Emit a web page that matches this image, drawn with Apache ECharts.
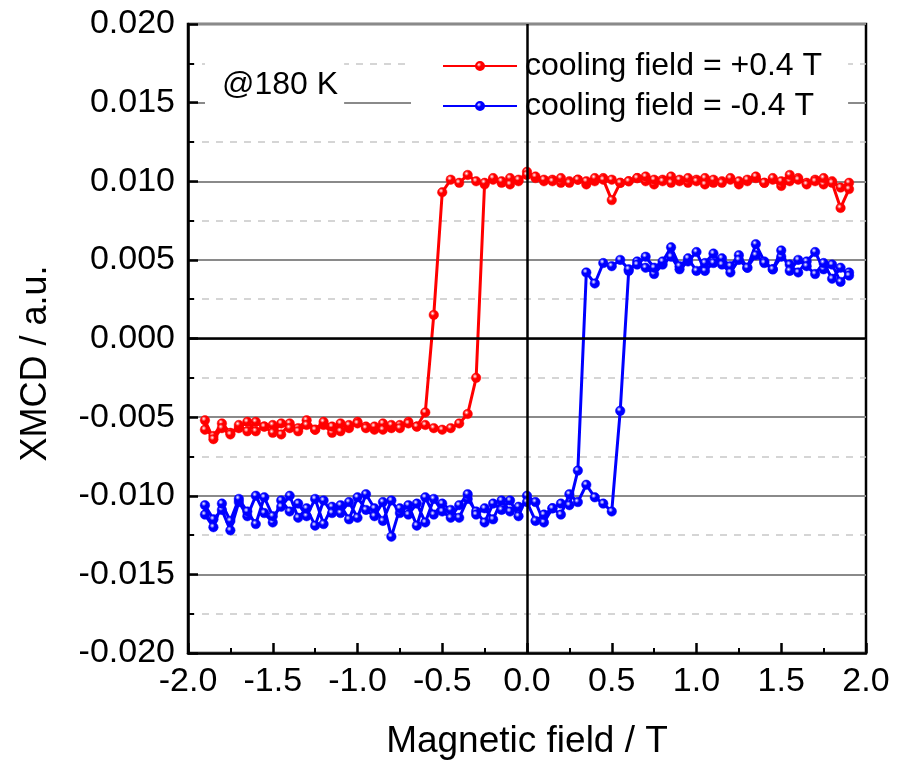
<!DOCTYPE html>
<html>
<head>
<meta charset="utf-8">
<script src="https://cdn.jsdelivr.net/npm/echarts@6/dist/echarts.min.js"></script>
<style>
html,body{margin:0;padding:0;background:#fff;}
#chart{width:910px;height:765px;}
</style>
</head>
<body>
<div id="chart"></div>
<script>
// Magnetic field sweep points (T), ascending order
const fields = [-1.90,-1.85,-1.80,-1.75,-1.70,-1.65,-1.60,-1.55,-1.50,-1.45,
  -1.40,-1.35,-1.30,-1.25,-1.20,-1.15,-1.10,-1.05,-1.00,-0.95,
  -0.90,-0.85,-0.80,-0.75,-0.70,-0.65,-0.60,-0.55,-0.50,-0.45,
  -0.40,-0.35,-0.30,-0.25,-0.20,-0.15,-0.10,-0.05,0.00,0.05,
  0.10,0.15,0.20,0.25,0.30,0.35,0.40,0.45,0.50,0.55,
  0.60,0.65,0.70,0.75,0.80,0.85,0.90,0.95,1.00,1.05,
  1.10,1.15,1.20,1.25,1.30,1.35,1.40,1.45,1.50,1.55,
  1.60,1.65,1.70,1.75,1.80,1.85,1.90];

// Cooling field +0.4 T : decreasing-field branch (listed in ascending field order)
const redDown = [-0.0058,-0.0062,-0.0054,-0.0060,-0.0057,-0.0053,-0.0059,-0.0056,-0.0055,-0.0061,
  -0.0054,-0.0057,-0.0052,-0.0058,-0.0055,-0.0060,-0.0054,-0.0057,-0.0053,-0.0056,
  -0.0058,-0.0054,-0.0057,-0.0055,-0.0053,-0.0056,-0.0047,0.0015,0.0093,0.0101,
  0.0099,0.0104,0.0100,0.0098,0.0101,0.0099,0.0102,0.0100,0.0106,0.0102,
  0.0100,0.0101,0.0099,0.0100,0.0101,0.0098,0.0100,0.0102,0.0101,0.0099,
  0.0100,0.0102,0.0100,0.0098,0.0101,0.0103,0.0100,0.0099,0.0101,0.0102,
  0.0099,0.0100,0.0101,0.0098,0.0100,0.0102,0.0099,0.0101,0.0097,0.0100,
  0.0102,0.0099,0.0101,0.0098,0.0100,0.0096,0.0099];
// Cooling field +0.4 T : increasing-field branch
const redUp = [-0.0052,-0.0064,-0.0057,-0.0061,-0.0055,-0.0059,-0.0053,-0.0056,-0.0060,-0.0054,
  -0.0057,-0.0059,-0.0055,-0.0058,-0.0053,-0.0056,-0.0059,-0.0055,-0.0054,-0.0057,
  -0.0056,-0.0058,-0.0055,-0.0057,-0.0054,-0.0056,-0.0055,-0.0057,-0.0058,-0.0057,
  -0.0054,-0.0048,-0.0025,0.0099,0.0102,0.0100,0.0098,0.0101,0.0104,0.0103,
  0.0101,0.0100,0.0102,0.0099,0.0101,0.0100,0.0102,0.0101,0.0088,0.0099,
  0.0100,0.0102,0.0103,0.0101,0.0100,0.0099,0.0101,0.0102,0.0100,0.0098,
  0.0101,0.0099,0.0102,0.0100,0.0101,0.0103,0.0099,0.0102,0.0100,0.0104,
  0.0101,0.0098,0.0100,0.0102,0.0099,0.0083,0.0095];

// Cooling field -0.4 T : decreasing-field branch (listed in ascending field order)
const blueDown = [-0.0106,-0.0115,-0.0109,-0.0122,-0.0104,-0.0113,-0.0100,-0.0111,-0.0117,-0.0103,
  -0.0110,-0.0105,-0.0113,-0.0102,-0.0118,-0.0107,-0.0111,-0.0104,-0.0114,-0.0099,
  -0.0108,-0.0116,-0.0103,-0.0111,-0.0106,-0.0119,-0.0101,-0.0112,-0.0105,-0.0109,
  -0.0114,-0.0102,-0.0110,-0.0117,-0.0105,-0.0109,-0.0103,-0.0113,-0.0100,-0.0104,
  -0.0117,-0.0108,-0.0112,-0.0099,-0.0104,-0.0093,-0.0101,-0.0105,-0.0110,-0.0046,
  0.0043,0.0049,0.0045,0.0041,0.0047,0.0052,0.0044,0.0049,0.0055,0.0043,
  0.0048,0.0051,0.0046,0.0053,0.0045,0.0060,0.0049,0.0044,0.0052,0.0047,
  0.0042,0.0049,0.0055,0.0044,0.0047,0.0036,0.0042];
// Cooling field -0.4 T : increasing-field branch
const blueUp = [-0.0112,-0.0120,-0.0105,-0.0116,-0.0102,-0.0110,-0.0118,-0.0101,-0.0113,-0.0107,
  -0.0100,-0.0114,-0.0108,-0.0119,-0.0103,-0.0111,-0.0106,-0.0115,-0.0101,-0.0109,
  -0.0113,-0.0104,-0.0126,-0.0108,-0.0112,-0.0105,-0.0117,-0.0102,-0.0110,-0.0114,
  -0.0106,-0.0099,-0.0112,-0.0108,-0.0115,-0.0103,-0.0110,-0.0107,-0.0104,-0.0116,
  -0.0112,-0.0108,-0.0105,-0.0106,-0.0084,0.0042,0.0035,0.0048,0.0046,0.0050,
  0.0044,0.0047,0.0052,0.0045,0.0049,0.0058,0.0046,0.0051,0.0043,0.0048,
  0.0054,0.0047,0.0042,0.0050,0.0045,0.0053,0.0048,0.0044,0.0056,0.0043,
  0.0050,0.0046,0.0041,0.0048,0.0038,0.0045,0.0040];

const seriesNames = ['cooling field = +0.4 T', 'cooling field = -0.4 T'];
const xTicks = ['-2.0','-1.5','-1.0','-0.5','0.0','0.5','1.0','1.5','2.0'];
const annotation = '@180 K';

function loop(down, up) {
  const pts = [];
  for (let i = fields.length - 1; i >= 0; i--) pts.push([fields[i], down[i]]);
  for (let i = 0; i < fields.length; i++) pts.push([fields[i], up[i]]);
  return pts;
}
function ball(c) {
  return {type:'radial', x:0.38, y:0.35, r:0.7,
    colorStops:[{offset:0,color:'#ffffff'},{offset:0.35,color:c},{offset:1,color:c}]};
}

const FONT = '"Liberation Sans", Arial, sans-serif';
const chart = echarts.init(document.getElementById('chart'), null, {renderer:'canvas'});
const option = {
  animation: false,
  backgroundColor: '#fff',
  grid: {left:188, right:44, top:24, bottom:110, show:true, borderColor:'#000', borderWidth:2.5, backgroundColor:'transparent'},
  title: {
    text: annotation, left: 205, top: 42,
    backgroundColor: '#fff', padding: [27, 6, 27, 17],
    textStyle: {fontFamily: FONT, fontSize: 32, fontWeight: 'normal', color: '#000'}
  },
  legend: {
    orient: 'vertical', left: 411, top: 40,
    backgroundColor: '#fff', padding: [10, 26, 8, 31], itemGap: 8,
    itemWidth: 74, itemHeight: 10,
    textStyle: {fontFamily: FONT, fontSize: 32, color: '#000', padding: [0,0,0,3]},
    data: seriesNames
  },
  xAxis: {
    type: 'value', min: -2, max: 2, interval: 0.5,
    name: 'Magnetic field / T', nameLocation: 'middle', nameGap: 70,
    nameTextStyle: {fontFamily: FONT, fontSize: 37, color: '#000'},
    axisLine: {onZero:false, lineStyle:{color:'#000', width:2.5}},
    axisTick: {inside:true, length:10, lineStyle:{color:'#000', width:2.5}},
    minorTick: {show:true, splitNumber:2, length:5, lineStyle:{color:'#000', width:2}},
    axisLabel: {margin:12, fontFamily: FONT, fontSize: 34, color:'#000',
      formatter: function(v){ const s = v.toFixed(1); return xTicks.indexOf(s) >= 0 ? s : ''; }},
    splitLine: {show:false}
  },
  yAxis: {
    type: 'value', min: -0.02, max: 0.02, interval: 0.005,
    name: 'XMCD / a.u.', nameLocation: 'middle', nameGap: 134,
    nameTextStyle: {fontFamily: FONT, fontSize: 36, color: '#000', padding:[0,50,0,0]},
    axisLine: {onZero:false, lineStyle:{color:'#000', width:2.5}},
    axisTick: {inside:true, length:10, lineStyle:{color:'#000', width:2.5}},
    minorTick: {show:true, splitNumber:2, length:6, lineStyle:{color:'#000', width:2}},
    axisLabel: {margin:13, fontFamily: FONT, fontSize: 34, color:'#000',
      formatter: function(v){ return v.toFixed(3); }},
    splitLine: {show:true, lineStyle:{color:'#8a8a8a', width:2}},
    minorSplitLine: {show:true, lineStyle:{color:'#c8c8c8', width:1.5, type:[7,7]}}
  },
  series: [
    {
      name: seriesNames[0], type: 'line', data: loop(redDown, redUp),
      showAllSymbol: true, symbol: 'circle', symbolSize: 9.5,
      lineStyle: {color:'#ff0000', width:3},
      itemStyle: {color: ball('#ff0000'), borderColor:'#ff0000', borderWidth:0.5},
      markLine: {
        silent: true, symbol: 'none', label: {show:false},
        lineStyle: {color:'#000', width:2.5, type:'solid'},
        data: [{yAxis: 0}, {xAxis: 0}]
      },
      z: 3
    },
    {
      name: seriesNames[1], type: 'line', data: loop(blueDown, blueUp),
      showAllSymbol: true, symbol: 'circle', symbolSize: 9.5,
      lineStyle: {color:'#0000ff', width:3},
      itemStyle: {color: ball('#0000ff'), borderColor:'#0000ff', borderWidth:0.5},
      z: 3
    }
  ]
};
chart.setOption(option);
</script>
</body>
</html>
